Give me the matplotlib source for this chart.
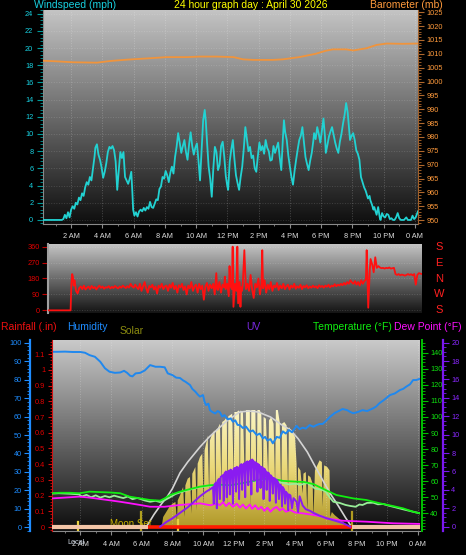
import matplotlib
matplotlib.use("Agg")
import matplotlib.pyplot as plt
import numpy as np
from matplotlib.ticker import MultipleLocator, FixedLocator, FuncFormatter
from matplotlib.colors import LinearSegmentedColormap
import matplotlib.transforms as mtrans

plt.rcParams['font.family'] = ['Liberation Sans', 'DejaVu Sans']

# ---------------- data (hours after midnight) ----------------
hour_ticks = [2, 4, 6, 8, 10, 12, 14, 16, 18, 20, 22, 24]
hour_labels = ['2 AM', '4 AM', '6 AM', '8 AM', '10 AM', '12 PM',
               '2 PM', '4 PM', '6 PM', '8 PM', '10 PM', '0 AM']

wind_hours = [0.2, 1.4, 1.5, 1.6, 1.7, 1.8, 1.9, 2.0, 2.1, 2.2, 2.3, 2.4, 2.5, 2.6, 2.7, 2.8, 2.9,
              3.0, 3.1, 3.2, 3.3, 3.4, 3.5, 3.55, 3.65, 3.75, 3.85, 3.95, 4.05, 4.15, 4.25, 4.35,
              4.45, 4.55, 4.65, 4.75, 4.85, 4.95, 5.05, 5.15, 5.25, 5.35, 5.45, 5.55, 5.65, 5.75,
              5.85, 5.92, 5.97, 6.05, 6.15, 6.25, 6.35, 6.45, 6.55, 6.65, 6.75, 6.85, 6.95, 7.05,
              7.15, 7.25, 7.35, 7.45, 7.55, 7.65, 7.75, 7.85, 7.95, 8.05, 8.15, 8.25, 8.35, 8.45,
              8.55, 8.65, 8.75, 8.85, 8.95, 9.05, 9.15, 9.25, 9.35, 9.45, 9.55, 9.65, 9.75, 9.85,
              9.95, 10.05, 10.15, 10.25, 10.35, 10.45, 10.55, 10.62, 10.7, 10.8, 10.9, 11.0, 11.1,
              11.2, 11.3, 11.4, 11.5, 11.6, 11.7, 11.8, 11.9, 12.0, 12.05, 12.15, 12.25, 12.35,
              12.45, 12.55, 12.65, 12.75, 12.85, 12.95, 13.05, 13.15, 13.25, 13.35, 13.45, 13.55,
              13.65, 13.75, 13.85, 13.95, 14.05, 14.15, 14.25, 14.35, 14.45, 14.55, 14.65, 14.75,
              14.85, 14.95, 15.05, 15.15, 15.25, 15.35, 15.45, 15.55, 15.62, 15.7, 15.8, 15.9,
              16.0, 16.1, 16.2, 16.3, 16.4, 16.5, 16.6, 16.7, 16.8, 16.9, 17.0, 17.1, 17.2, 17.3,
              17.4, 17.5, 17.55, 17.65, 17.75, 17.85, 17.95, 18.05, 18.15, 18.25, 18.3, 18.4, 18.5,
              18.6, 18.7, 18.8, 18.9, 19.0, 19.1, 19.2, 19.3, 19.4, 19.5, 19.6, 19.7, 19.8, 19.85,
              19.95, 20.05, 20.15, 20.25, 20.35, 20.45, 20.55, 20.65, 20.75, 20.85, 20.9, 21.0,
              21.1, 21.15, 21.25, 21.35, 21.4, 21.5, 21.55, 21.65, 21.75, 21.8, 21.9, 22.0, 22.1,
              22.2, 22.3, 22.4, 22.5, 22.6, 22.7, 22.8, 22.9, 23.0, 23.1, 23.3, 23.45, 23.55,
              23.75, 23.85, 23.95, 24.05, 24.2]
wind_mph = [0, 0, 0.1, 0.6, 0.2, 0.9, 0.3, 1.2, 1.6, 1.3, 2.0, 1.8, 2.6, 2.3, 3.1, 2.8, 3.8,
            4.4, 4.1, 5.0, 4.6, 6.0, 7.4, 8.4, 8.8, 7.6, 7.0, 6.1, 4.9, 5.6, 6.6, 7.9,
            8.5, 8.3, 8.6, 8.1, 6.8, 3.5, 5.8, 7.9, 7.2, 7.9, 5.0, 4.6, 4.2, 4.8,
            5.6, 3.2, 1.2, 0.5, 0.9, 0.4, 1.0, 1.2, 1.0, 1.4, 1.1, 1.5, 1.3, 2.1,
            1.5, 1.4, 1.9, 2.4, 2.3, 3.6, 3.9, 5.0, 4.8, 5.7, 5.2, 4.4, 5.5, 6.2,
            5.4, 7.3, 8.5, 10.1, 9.0, 7.8, 8.6, 9.3, 7.9, 7.0, 8.8, 10.2, 8.6, 7.6,
            8.4, 8.9, 6.9, 4.6, 8.0, 11.6, 12.8, 11.5, 9.0, 6.2, 4.8, 2.7, 6.0,
            8.5, 7.9, 5.8, 6.4, 8.6, 9.1, 7.4, 5.1, 3.9, 3.5, 6.8, 8.2, 9.3,
            7.1, 5.2, 4.3, 3.5, 5.0, 6.2, 8.3, 10.8, 9.4, 8.0, 8.5, 7.2,
            7.5, 6.0, 5.6, 7.4, 9.0, 8.1, 8.6, 7.7, 9.3, 8.4, 8.0, 6.9,
            7.0, 8.6, 7.8, 8.4, 9.0, 7.3, 5.8, 9.4, 11.6, 10.2, 9.3, 7.5,
            6.2, 5.0, 4.1, 5.7, 7.0, 8.2, 9.3, 9.8, 10.8, 9.0, 7.3, 6.5, 5.8, 6.9,
            7.8, 9.2, 10.1, 9.4, 10.8, 10.0, 9.0, 10.4, 11.8, 9.6, 7.8, 8.7, 9.7,
            10.3, 10.8, 9.9, 9.0, 8.3, 7.8, 9.1, 10.0, 11.2, 12.2, 13.6, 12.5, 10.4, 9.3,
            9.8, 10.1, 9.3, 8.1, 7.7, 7.0, 5.0, 4.4, 3.8, 3.4, 3.1, 2.5,
            2.8, 2.3, 1.8, 1.2, 1.5, 0.9, 0.6, 1.5, 0.3, 0.0, 0.8, 0.4, 0.3,
            0.7, 0.6, 0.1, 0.2, 0.0, 0.0, 0.3, 0.8, 0.2, 0.0, 0.0, 0.3, 0.0,
            0.0, 0.5, 0.1, 0.3, 1.0]

baro_hours = [0.2, 1.0, 2.1, 3.65, 4.5, 5.6, 7.05, 8.1, 9.4, 10.25, 11.3, 12.4, 13.0, 13.65,
              14.9, 15.55, 16.6, 17.65, 18.3, 18.75, 19.6, 20.05, 20.9, 21.55, 22.2, 23.2, 24.2]
baro_mb = [1007.5, 1007.3, 1006.95, 1006.8, 1007.4, 1007.9, 1008.4, 1008.8, 1008.8, 1009.0,
           1009.0, 1008.8, 1008.0, 1007.8, 1007.8, 1008.0, 1008.8, 1010.0, 1011.1, 1011.6,
           1011.6, 1011.2, 1012.0, 1013.2, 1013.7, 1013.6, 1013.7]

dir_hours = [0.2, 1.65, 1.7, 1.75, 1.8, 1.85, 1.9, 2.0, 2.1, 2.2, 2.3, 2.4, 2.5, 2.6, 2.7, 2.8,
             2.9, 3.0, 3.1, 3.2, 3.3, 3.4, 3.5, 3.6, 3.7, 3.8, 3.9, 4.0, 4.1, 4.2, 4.3, 4.4,
             4.5, 4.6, 4.7, 4.8, 4.9, 5.0, 5.1, 5.2, 5.3, 5.4, 5.5, 5.6, 5.7, 5.8, 5.9, 6.0,
             6.1, 6.2, 6.3, 6.4, 6.5, 6.6, 6.7, 6.8, 6.9, 7.0, 7.1, 7.2, 7.3, 7.4, 7.5, 7.6,
             7.7, 7.8, 7.9, 8.0, 8.1, 8.2, 8.3, 8.4, 8.5, 8.6, 8.7, 8.8, 8.9, 9.0, 9.1, 9.2,
             9.3, 9.4, 9.5, 9.6, 9.7, 9.8, 9.9, 10.0, 10.1, 10.2, 10.3, 10.4, 10.5, 10.6, 10.7,
             10.8, 10.9, 11.0, 11.05, 11.1, 11.2, 11.3, 11.4, 11.5, 11.55, 11.6, 11.7, 11.8,
             11.85, 11.9, 12.0, 12.05, 12.1, 12.2, 12.3, 12.35, 12.4, 12.5, 12.55, 12.6, 12.65,
             12.7, 12.8, 12.9, 13.0, 13.1, 13.2, 13.3, 13.4, 13.5, 13.6, 13.7, 13.8, 13.9, 13.95,
             14.0, 14.1, 14.2, 14.3, 14.4, 14.5, 14.6, 14.7, 14.8, 14.9, 15.0, 15.1, 15.2, 15.3,
             15.4, 15.5, 15.6, 15.7, 15.8, 15.9, 16.0, 16.1, 16.2, 16.3, 16.4, 16.5, 16.6, 16.7,
             16.8, 16.9, 17.0, 17.1, 17.2, 17.3, 17.4, 17.5, 17.6, 17.7, 17.8, 17.9, 18.0, 18.1,
             18.2, 18.3, 18.4, 18.5, 18.6, 18.7, 18.8, 18.9, 19.0, 19.1, 19.2, 19.3, 19.4, 19.5,
             19.6, 19.7, 19.8, 19.9, 20.0, 20.1, 20.2, 20.3, 20.4, 20.5, 20.6, 20.65, 20.75, 20.85,
             20.9, 21.0, 21.1, 21.2, 21.3, 21.4, 21.5, 21.6, 21.7, 21.8, 21.9, 22.0, 22.1, 22.2,
             22.3, 22.4, 22.5, 22.6, 22.7, 22.8, 22.9, 23.0, 23.1, 23.2, 23.3, 23.4, 23.5, 23.6,
             23.7, 23.8, 23.9, 24.0, 24.2]
dir_deg = [0, 0, 150, 205, 190, 140, 170, 110, 95, 125, 135, 120, 140, 118, 128, 135,
           120, 138, 125, 132, 118, 130, 140, 127, 135, 122, 131, 128, 137, 124, 133, 126,
           138, 130, 124, 135, 128, 140, 132, 126, 137, 129, 150, 135, 128, 145, 130, 120,
           150, 110, 135, 160, 125, 100, 138, 130, 145, 118, 135, 95, 140, 128, 150, 120,
           135, 140, 110, 145, 128, 155, 120, 138, 100, 142, 130, 150, 115, 135, 90, 140,
           125, 160, 110, 135, 145, 100, 150, 120, 140, 60, 135, 155, 110, 145, 125,
           150, 90, 210, 120, 115, 160, 100, 145, 130, 190, 120, 150, 80,
           250, 140, 120, 360, 20, 150, 110, 360, 40, 160, 20, 130, 110,
           150, 340, 120, 150, 110, 200, 120, 70, 150, 130, 180, 90, 150, 340,
           125, 170, 100, 145, 120, 160, 110, 140, 130, 155, 115, 140, 125, 150,
           120, 135, 145, 118, 140, 128, 150, 122, 136, 128, 145, 120, 138, 130,
           142, 125, 135, 128, 140, 130, 136, 125, 142, 132, 138, 128, 140, 133,
           145, 130, 140, 135, 148, 136, 145, 140, 150, 142, 155, 145, 160, 150,
           170, 158, 150, 165, 145, 160, 140, 170, 150, 165, 175, 340, 15, 230,
           290, 260, 215, 300, 240, 250, 242, 238, 240, 236, 240, 238, 242, 236,
           238, 240, 205, 200, 205, 198, 202, 200, 196, 200, 205, 200, 204, 198,
           205, 145, 200, 210, 205]

hum_hours = [0.15, 0.5, 1.0, 1.5, 2.0, 2.3, 2.6, 2.95, 3.3, 3.6, 3.9, 4.25, 4.6, 4.85, 5.05,
             5.25, 5.4, 5.6, 5.9, 6.2, 6.55, 6.9, 7.2, 7.5, 7.7, 8.0, 8.25, 8.5, 8.7, 8.85, 9.0,
             9.15, 9.3, 9.5, 9.65, 9.8, 10.0, 10.1, 10.2, 10.35, 10.45, 10.6, 10.8, 10.95, 11.1,
             11.25, 11.4, 11.6, 11.8, 11.95, 12.1, 12.25, 12.4, 12.6, 12.8, 13.05, 13.25, 13.5,
             13.7, 13.9, 14.05, 14.2, 14.4, 14.55, 14.7, 14.8, 15.0, 15.2, 15.4, 15.6, 15.8,
             16.1, 16.3, 16.5, 16.7, 16.95, 17.2, 17.4, 17.6, 17.8, 18.0, 18.3, 18.6, 18.85,
             19.1, 19.4, 19.6, 19.8, 20.1, 20.4, 20.7, 21.1, 21.3, 21.5, 21.8, 22.2, 22.5, 22.85,
             23.05, 23.25, 23.5, 23.7, 23.9, 24.15]
hum_pct = [95.1, 95.1, 95.2, 95.0, 95.0, 94.6, 93.3, 92.4, 89.7, 86.2, 84.3, 83.7, 83.9, 84.8, 83.7,
           82.1, 81.8, 83.4, 83.7, 85.0, 87.9, 87.0, 87.0, 86.7, 83.4, 82.5, 81.1, 80.9, 79.6, 78.9, 78.0,
           77.1, 75.0, 73.5, 72.0, 70.8, 71.7, 68.0, 66.2, 67.0, 63.5, 62.5, 61.7, 63.0, 62.3,
           60.0, 60.8, 58.5, 59.0, 57.2, 58.0, 55.5, 55.4, 53.8, 54.6, 51.8, 52.5, 50.0,
           50.8, 48.2, 49.0, 47.0, 47.8, 45.5, 47.5, 49.0, 48.5, 52.0, 50.8, 52.7, 51.5,
           55.0, 53.2, 54.0, 53.5, 55.4, 54.5, 55.4, 56.0, 56.0, 57.5, 60.0, 62.0, 63.0,
           64.1, 63.5, 62.5, 61.8, 62.5, 63.5, 63.0, 64.5, 65.5, 67.2, 69.0, 71.7, 72.5, 74.4,
           75.0, 76.2, 77.5, 79.8, 79.8, 80.5]

solar_hours = [7.3, 7.4, 7.6, 7.8, 8.0, 8.2, 8.3, 8.35, 8.5, 8.7, 8.8, 8.85, 9.0, 9.15, 9.25, 9.3,
               9.5, 9.6, 9.65, 9.8, 9.95, 10.05, 10.1, 10.25, 10.3, 10.4, 10.45, 10.6, 10.75,
               10.8, 10.85, 10.9, 11.0, 11.1, 11.2, 11.25, 11.4, 11.55, 11.6, 11.65, 11.75, 11.9,
               12.0, 12.05, 12.2, 12.35, 12.4, 12.45, 12.6, 12.75, 12.8, 12.95, 13.05, 13.1,
               13.15, 13.3, 13.4, 13.5, 13.55, 13.7, 13.8, 13.9, 13.95, 14.1, 14.25, 14.3, 14.45,
               14.6, 14.7, 14.75, 14.85, 15.0, 15.1, 15.15, 15.3, 15.45, 15.55, 15.6, 15.75, 15.9,
               16.0, 16.1, 16.15, 16.2, 16.35, 16.5, 16.55, 16.7, 16.8, 16.85, 17.0, 17.15, 17.2,
               17.3, 17.5, 17.6, 17.75, 17.8, 17.9, 18.1, 18.25, 18.3, 18.4, 18.6, 18.8, 19.0,
               19.2, 19.4, 19.6, 19.8]
solar_wm2 = [0, 60, 90, 120, 140, 150, 40, 160, 190, 240, 60, 250, 290, 300, 80, 320,
             360, 100, 380, 420, 440, 120, 460, 520, 550, 200, 520, 560, 580,
             150, 590, 580, 600, 620, 250, 630, 640, 660, 120, 665, 670, 680,
             300, 690, 690, 700, 150, 700, 690, 200, 700, 720, 700, 100,
             740, 730, 760, 200, 740, 700, 680, 150, 660, 650, 300, 640, 660,
             620, 250, 700, 720, 630, 180, 620, 630, 610, 200, 600, 580, 560,
             540, 380, 100, 360, 340, 200, 320, 330, 100, 310, 300, 260, 60,
             340, 380, 400, 390, 120, 370, 360, 340, 60, 90, 70, 55, 40,
             25, 12, 5, 0]

theory_hours = [6.3, 6.8, 7.3, 7.65, 8.0, 8.5, 9.0, 9.8, 10.4, 10.9, 11.6, 12.4, 13.0, 13.6,
                14.4, 15.1, 15.7, 16.2, 16.8, 17.3, 17.8, 18.3, 18.8, 19.3, 19.7]
theory_wm2 = [0, 75, 140, 180, 230, 325, 390, 480, 540, 582, 640, 690, 696, 690,
              660, 615, 582, 530, 450, 365, 282, 200, 130, 55, 0]

uv_hours = [7.2, 7.6, 8.0, 8.5, 9.0, 9.4, 9.8, 10.2, 10.5, 10.65, 10.7, 10.75, 10.85, 10.9, 10.95,
            11.05, 11.1, 11.15, 11.3, 11.35, 11.4, 11.5, 11.55, 11.6, 11.7, 11.75, 11.8, 11.9,
            11.95, 12.0, 12.1, 12.15, 12.2, 12.3, 12.35, 12.4, 12.5, 12.55, 12.6, 12.7, 12.75,
            12.8, 12.9, 12.95, 13.0, 13.1, 13.15, 13.2, 13.3, 13.35, 13.4, 13.5, 13.55, 13.6,
            13.7, 13.75, 13.8, 13.9, 13.95, 14.0, 14.1, 14.15, 14.2, 14.3, 14.35, 14.4, 14.5,
            14.55, 14.6, 14.7, 14.75, 14.8, 14.9, 14.95, 15.0, 15.1, 15.15, 15.2, 15.3, 15.35,
            15.4, 15.5, 15.55, 15.6, 15.7, 15.8, 15.9, 16.0, 16.1, 16.2, 16.3, 16.5, 16.7, 17.0,
            17.2, 17.6, 18.0, 18.5, 19.1, 19.6]
uv_index = [0, 0.5, 0.9, 1.5, 2.1, 2.7, 3.3, 3.8, 4.1, 4.3, 2.5, 4.6, 4.8, 2.0, 5.0,
            5.2, 3.0, 5.4, 5.6, 2.8, 5.8, 6.0, 3.2, 5.9, 6.1, 3.5, 6.2, 6.0,
            2.5, 6.3, 6.4, 3.8, 6.5, 6.4, 3.0, 6.6, 6.8, 4.0, 6.7, 6.9, 3.2,
            7.0, 7.1, 4.5, 7.0, 7.2, 3.5, 7.3, 7.1, 5.0, 7.0, 6.9, 3.8, 6.8,
            6.6, 4.2, 6.5, 6.4, 3.0, 6.3, 6.0, 4.0, 5.9, 5.8, 2.8, 5.6, 5.4,
            3.6, 5.3, 5.2, 2.6, 5.1, 4.8, 3.0, 4.6, 4.4, 2.2, 4.3, 4.0, 2.5,
            3.8, 3.6, 1.8, 3.5, 3.4, 2.0, 3.1, 2.9, 2.7, 1.6, 3.3, 2.3, 1.9, 1.7,
            1.5, 1.2, 0.95, 0.7, 0.4, 0.0]

temp_hours = [0.15, 0.6, 1.3, 1.95, 2.6, 3.3, 3.9, 4.6, 5.2, 5.9, 6.55, 7.2, 7.5, 7.85, 8.5,
              9.15, 9.8, 10.45, 11.1, 11.8, 12.4, 13.05, 13.7, 14.4, 15.2, 16.1, 16.6, 17.2,
              18.0, 18.7, 19.8, 20.65, 21.55, 22.4, 23.05, 23.7, 24.15]
temp_f = [52.5, 52.8, 52.8, 52.5, 53.5, 53.2, 53.0, 52.5, 50.4, 49.3, 48.3, 47.9, 49.3, 51.4, 53.5,
          55.1, 56.6, 57.5, 57.8, 57.5, 58.5, 59.7, 61.0, 61.8, 60.2, 59.7, 59.5, 58.2,
          54.5, 51.4, 49.3, 48.3, 46.2, 44.5, 43.1, 41.0, 40.0]

feel_hours = [0.15, 0.6, 1.3, 1.9, 2.1, 2.4, 2.7, 3.0, 3.3, 3.6, 3.9, 4.2, 4.5, 4.8, 5.1, 5.4,
              5.7, 5.9, 6.2, 6.55, 6.9, 7.2, 7.5, 7.85, 8.2, 8.5, 9.15, 9.8, 10.45, 11.1, 11.8,
              12.4, 13.05, 13.7, 14.4, 14.8, 15.2, 15.6, 16.1, 16.3, 16.8, 17.3, 17.8, 18.0, 18.3,
              18.5, 18.9, 19.3, 19.6, 19.95, 20.2, 20.4, 20.7, 21.1, 21.4, 21.75, 22.1, 22.4,
              23.05, 23.7, 24.15]
feel_f = [52.3, 52.5, 52.2, 51.8, 50.5, 51.5, 50.0, 51.2, 49.8, 50.8, 50.0, 51.0, 50.2, 49.5, 50.5, 48.8,
          49.6, 49.0, 48.0, 47.2, 47.8, 47.0, 48.2, 50.0, 52.0, 53.0, 54.8, 56.3, 57.2, 57.5, 57.2,
          58.2, 59.3, 60.5, 61.0, 59.5, 59.0, 58.0, 58.5, 57.6, 58.9, 55.5, 54.5, 53.5, 49.5,
          47.2, 46.5, 45.2, 44.6, 44.1, 45.5, 45.2, 46.5, 46.6, 45.6, 45.8, 44.8, 44.1,
          42.5, 41.0, 40.0]

dew_hours = [0.15, 1.0, 1.95, 2.6, 3.3, 4.0, 4.6, 5.2, 5.9, 6.55, 7.5, 8.5, 9.8, 10.5, 10.9, 11.1,
             11.3, 11.5, 11.7, 11.95, 12.2, 12.4, 12.6, 12.8, 13.05, 13.2, 13.4, 13.6, 13.8, 14.0,
             14.2, 14.4, 14.6, 14.8, 15.0, 15.2, 15.4, 15.7, 16.0, 16.5, 17.2, 17.8, 18.0, 19.1,
             20.65, 22.4, 24.15]
dew_f = [49.3, 49.8, 50.4, 49.8, 48.9, 48.0, 47.2, 46.3, 45.2, 44.1, 44.1, 45.2, 46.2, 45.0, 46.2, 45.0,
         47.0, 44.5, 46.5, 44.1, 46.0, 43.5, 45.5, 43.0, 45.5, 42.8, 45.0, 42.5, 44.0, 41.5,
         43.5, 41.0, 43.0, 44.0, 41.8, 43.0, 41.0, 42.0, 40.5, 40.0, 39.0, 37.9, 36.9, 35.4,
         34.8, 33.8, 33.4]

rain_hours = [0.15, 6.4, 19.7, 24.15]
rain_in = [0, 0, 0, 0]
sunrise, sunset = 6.4, 19.7
event_hours = [1.85, 5.95, 8.37, 19.72]

# ---------------- figure ----------------
W, H = 466, 555
fig = plt.figure(figsize=(W / 100, H / 100), dpi=100, facecolor='black')
XMIN, XMAX = 0.2, 24.2
TICK = 5.3
GRAY = '#8a8a8a'


def box(l, t, r, b):
    return [l / W, 1 - b / H, (r - l) / W, (b - t) / H]


def background(pos, top, bottom):
    bg = fig.add_axes(pos, zorder=-5)
    cmap = LinearSegmentedColormap.from_list('bg', [bottom, top])
    bg.imshow(np.linspace(0, 1, 256).reshape(-1, 1), cmap=cmap, origin='lower',
              aspect='auto', extent=[0, 1, 0, 1])
    bg.axis('off')


def bare(ax):
    for s in ax.spines.values():
        s.set_visible(False)
    ax.tick_params(left=False, right=False, top=False, bottom=False,
                   labelleft=False, labelright=False, labelbottom=False, labeltop=False)


def time_axis(ax, labels=True, pad=3.5):
    ax.set_xlim(XMIN, XMAX)
    ax.xaxis.set_major_locator(FixedLocator(hour_ticks))
    ax.xaxis.set_minor_locator(MultipleLocator(1))
    ax.set_xticklabels(hour_labels if labels else [])
    ax.tick_params(axis='x', which='major', colors=GRAY, length=3, labelcolor='#dcdcdc',
                   labelsize=TICK, pad=pad, bottom=True, labelbottom=labels)
    ax.tick_params(axis='x', which='minor', colors=GRAY, length=1.5, bottom=True)
    ax.grid(axis='x', which='major', color='white', alpha=0.22, ls=':', lw=0.7)


# ---- top panel: wind speed + barometer ----
p1 = box(43, 10, 418, 224)
background(p1, '#c4c4c4', '#0e0e0e')
ax1 = fig.add_axes(p1, facecolor='none')
bare(ax1)
ax1.spines['left'].set_visible(True)
ax1.spines['bottom'].set_visible(True)
ax1.spines['left'].set_color(GRAY)
ax1.spines['bottom'].set_color(GRAY)
ax1.plot(wind_hours, wind_mph, color='#22d2d2', lw=1.3, zorder=3)
ax1.set_ylim(-0.47, 24.42)
ax1.yaxis.set_major_locator(MultipleLocator(2))
ax1.yaxis.set_minor_locator(MultipleLocator(0.4))
ax1.tick_params(axis='y', which='both', left=True, colors='#009a9a', labelcolor='#18d0e0',
                labelleft=True, labelsize=TICK)
ax1.tick_params(axis='y', which='major', length=4, pad=3)
ax1.tick_params(axis='y', which='minor', length=2)
ax1.grid(axis='y', which='major', color='white', alpha=0.15, ls=':', lw=0.7)
time_axis(ax1)

ax1b = fig.add_axes(p1, facecolor='none', sharex=ax1)
bare(ax1b)
ax1b.spines['right'].set_visible(True)
ax1b.spines['right'].set_color('#a0602a')
ax1b.yaxis.tick_right()
ax1b.plot(baro_hours, baro_mb, color='#f0943c', lw=1.3, zorder=3)
ax1b.set_ylim(948.6, 1025.8)
ax1b.yaxis.set_major_locator(MultipleLocator(5))
ax1b.yaxis.set_minor_locator(MultipleLocator(1))
ax1b.tick_params(axis='y', which='both', right=True, labelright=True, colors='#b0682c',
                 labelcolor='#ff9a3c', labelsize=TICK)
ax1b.tick_params(axis='y', which='major', length=4, pad=2)
ax1b.tick_params(axis='y', which='minor', length=2)
ax1b.tick_params(axis='x', which='both', bottom=False, labelbottom=False)

fig.text(34 / W, 1 - 5 / H, 'Windspeed (mph)', color='#18d0e0', fontsize=7.5, va='center', ha='left')
fig.text(251 / W, 1 - 5 / H, '24 hour graph day : April 30 2026', color='#ffff00', fontsize=7.5,
         va='center', ha='center')
fig.text(443 / W, 1 - 5 / H, 'Barometer (mb)', color='#ff9a3c', fontsize=7.5, va='center', ha='right')

# ---- middle panel: wind direction ----
p2 = box(48, 244, 422, 313)
background(p2, '#c4c4c4', '#141414')
ax2 = fig.add_axes(p2, facecolor='none')
bare(ax2)
ax2.spines['left'].set_visible(True)
ax2.spines['left'].set_color('#a0a0a0')
ax2.spines['left'].set_linewidth(1.5)
ax2.plot(dir_hours, dir_deg, color='#ff1010', lw=1.3, zorder=3)
ax2.set_xlim(XMIN, XMAX)
ax2.set_ylim(-15, 375)
ax2.set_yticks([0, 90, 180, 270, 360])
ax2.tick_params(axis='y', left=True, labelleft=True, colors='#c00000', labelcolor='#e00000',
                labelsize=TICK, length=4, pad=2)
ax2.grid(axis='y', color='white', alpha=0.15, ls=':', lw=0.7)
for deg, name in zip([360, 270, 180, 90, 0], ['S', 'E', 'N', 'W', 'S']):
    ax2.text(1.045, deg, name, color='#ff2020', fontsize=8, ha='center', va='center',
             transform=mtrans.blended_transform_factory(ax2.transAxes, ax2.transData))

# ---- bottom panel ----
p3 = box(52, 340, 420, 531)
background(p3, '#cacaca', '#0c0c0c')

# solar (hidden scale)
axs = fig.add_axes(p3, facecolor='none')
bare(axs)
axs.spines['bottom'].set_visible(True)
axs.spines['bottom'].set_color(GRAY)
fill = axs.fill_between(solar_hours, 0, solar_wm2, facecolor='none', edgecolor='none')
gold = LinearSegmentedColormap.from_list('gold', ['#b09828', '#ead878', '#fcf6c4'])
im = axs.imshow(np.linspace(0, 1, 256).reshape(-1, 1), cmap=gold, origin='lower', aspect='auto',
                extent=[XMIN, XMAX, 0, 700], zorder=1)
im.set_clip_path(fill.get_paths()[0], transform=axs.transData)
axs.plot(theory_hours, theory_wm2, color='#d4d4d4', lw=1.2, zorder=2)
axs.set_ylim(-24, 1122)
time_axis(axs, pad=4)
for h, top, col in zip(event_hours, [0.045, 0.10, 0.06, 0.10],
                       ['#e8d040', '#b0a020', '#e8d040', '#b09a20']):
    axs.axvline(h, ymin=0.0, ymax=top, color=col, lw=1.6, zorder=4)
axs.text(5.3, 0.038, 'Moon Set', color='#c8b000', fontsize=7, ha='center', va='center',
         transform=mtrans.blended_transform_factory(axs.transData, axs.transAxes), zorder=5)

# humidity
axh = fig.add_axes(p3, facecolor='none', sharex=axs)
bare(axh)
axh.spines['left'].set_visible(True)
axh.spines['left'].set_position(('axes', -22 / 368))
axh.spines['left'].set_color('#1e8cff')
axh.spines['left'].set_linewidth(1.6)
axh.plot(hum_hours, hum_pct, color='#2088ee', lw=1.4, zorder=3)
axh.set_ylim(-2.0, 101.5)
axh.yaxis.set_major_locator(MultipleLocator(10))
axh.yaxis.set_minor_locator(MultipleLocator(2))
axh.tick_params(axis='y', which='both', left=True, labelleft=True, colors='#1e8cff',
                labelcolor='#1e8cff', labelsize=TICK)
axh.tick_params(axis='y', which='major', length=4, pad=2)
axh.tick_params(axis='y', which='minor', length=2)
axh.tick_params(axis='x', which='both', bottom=False, labelbottom=False)

# rainfall
axr = fig.add_axes(p3, facecolor='none', sharex=axs)
bare(axr)
axr.spines['left'].set_visible(True)
axr.spines['left'].set_color('#d01010')
axr.spines['left'].set_linestyle((0, (2, 1)))
axr.set_ylim(-0.025, 1.19)
axr.yaxis.set_major_locator(FixedLocator(np.round(np.arange(0, 1.21, 0.1), 1)))
axr.yaxis.set_minor_locator(MultipleLocator(0.02))
axr.yaxis.set_major_formatter(FuncFormatter(lambda v, p: f'{v:g}'))
axr.tick_params(axis='y', which='both', left=True, labelleft=True, colors='#d01010',
                labelcolor='#e00000', labelsize=TICK)
axr.tick_params(axis='y', which='major', length=3, pad=2)
axr.tick_params(axis='y', which='minor', length=1.5)
axr.tick_params(axis='x', which='both', bottom=False, labelbottom=False)
rh = np.array(rain_hours)
ri = np.array(rain_in)
pre = rh <= sunrise
post = rh >= sunset
day = (rh >= sunrise) & (rh <= sunset)
axr.plot(rh[pre], ri[pre], color='#f2c4a6', lw=3, zorder=6, solid_capstyle='butt')
axr.plot(rh[post], ri[post], color='#f2c4a6', lw=3, zorder=6, solid_capstyle='butt')
axr.plot(rh[day], ri[day], color='#ff1a00', lw=2.6, zorder=6, solid_capstyle='butt')

# temperature / dew point
axt = fig.add_axes(p3, facecolor='none', sharex=axs)
bare(axt)
axt.spines['right'].set_visible(True)
axt.spines['right'].set_position(('axes', 1 + 2 / 368))
axt.spines['right'].set_color('#00c000')
axt.spines['right'].set_linewidth(1.4)
axt.yaxis.tick_right()
axt.plot(feel_hours, feel_f, color='#98ee98', lw=1.3, zorder=3)
axt.plot(temp_hours, temp_f, color='#10ee10', lw=1.3, zorder=3)
axt.plot(dew_hours, dew_f, color='#ff10ff', lw=1.3, zorder=3)
axt.set_ylim(29.0, 147.9)
axt.yaxis.set_major_locator(FixedLocator(list(range(40, 141, 10))))
axt.yaxis.set_minor_locator(MultipleLocator(2))
axt.tick_params(axis='y', which='both', right=True, labelright=True, colors='#00c000',
                labelcolor='#10e010', labelsize=TICK)
axt.tick_params(axis='y', which='major', length=4, pad=2)
axt.tick_params(axis='y', which='minor', length=2)
axt.tick_params(axis='x', which='both', bottom=False, labelbottom=False)

# UV
axu = fig.add_axes(p3, facecolor='none', sharex=axs)
bare(axu)
axu.spines['right'].set_visible(True)
axu.spines['right'].set_position(('axes', 1 + 23 / 368))
axu.spines['right'].set_color('#7a18f0')
axu.spines['right'].set_linewidth(1.6)
axu.yaxis.tick_right()
axu.plot(uv_hours, uv_index, color='#8a1cf0', lw=1.4, zorder=3)
axu.set_ylim(-0.47, 20.29)
axu.yaxis.set_major_locator(MultipleLocator(2))
axu.yaxis.set_minor_locator(MultipleLocator(0.5))
axu.tick_params(axis='y', which='both', right=True, labelright=True, colors='#7a18f0',
                labelcolor='#8a28ff', labelsize=TICK)
axu.tick_params(axis='y', which='major', length=4, pad=2)
axu.tick_params(axis='y', which='minor', length=2)
axu.tick_params(axis='x', which='both', bottom=False, labelbottom=False)

axs.set_xlim(XMIN - 0.05, XMAX - 0.05)

# the reference prints "Local" on top of the first time label
fig.text(76 / W, 1 - 542 / H, 'Local', color='#c8d0dc', fontsize=TICK, ha='center', va='center')

# header of the bottom panel
hy = 1 - 326.5 / H
fig.text(1 / W, hy, 'Rainfall (.in)', color='#ee1010', fontsize=7.5, va='center')
fig.text(67 / W, hy, 'Humidity', color='#1e8cff', fontsize=7.5, va='center')
fig.text(120 / W, 1 - 331.5 / H, 'Solar', color='#8c8c10', fontsize=7.5, va='center')
fig.text(246 / W, hy, 'UV', color='#7a28e0', fontsize=7.5, va='center')
fig.text(313 / W, hy, 'Temperature (°F)', color='#10ee10', fontsize=7.5, va='center')
fig.text(394 / W, hy, 'Dew Point (°F)', color='#ff10ff', fontsize=7.5, va='center')

fig.savefig('out.png', dpi=100, facecolor='black')
